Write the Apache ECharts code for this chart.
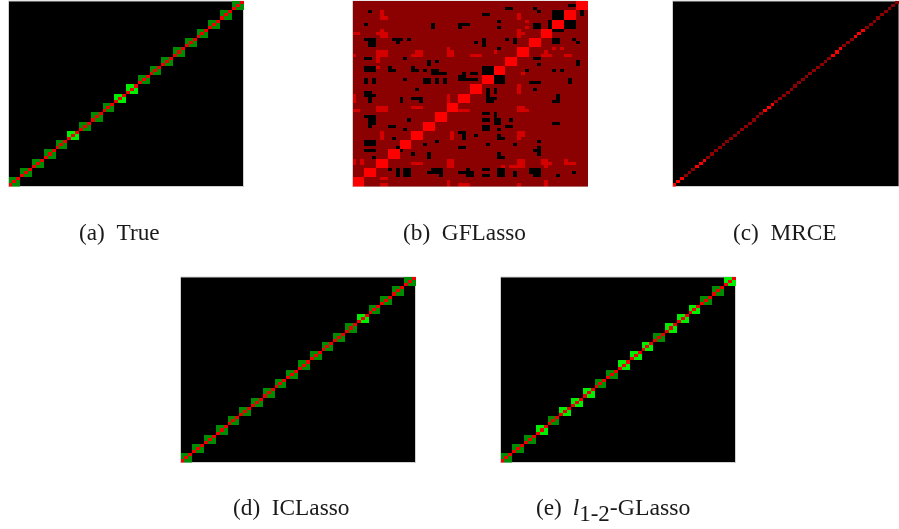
<!DOCTYPE html>
<html>
<head>
<meta charset="utf-8">
<style>html,body{margin:0;padding:0;background:#fff;overflow:hidden}#c{width:899px;height:529px;filter:blur(0.6px)}</style>
<script src="https://cdn.jsdelivr.net/npm/echarts@6/dist/echarts.min.js"></script>
</head>
<body>
<div id="c"></div>
<script>
const matrixSize = 60;
const blockCount = 20;
const blockSize = 3;

// strong (2) blocks, counted from the lower-left corner
const trueStrongBlocks = [5, 9, 10];
const iclassoStrongBlocks = [15];
const l12StrongBlocks = [3, 5, 6, 7, 10, 11, 12, 14, 15, 16, 19];
// strong diagonal blocks of MRCE
const mrceStrongBlocks = [0, 2, 8, 14, 16];

// GFLasso: [firstCol, lastCol, firstRowFromTop, lastRowFromTop]
const gflassoZero = [
 [4,4,3,3],[39,40,2,2],[46,46,2,2],[47,47,3,3],[55,56,1,1],[33,34,4,4],[58,58,3,4],
 [51,53,3,5],[54,56,6,8],[50,50,6,8],[51,53,9,9],[3,3,7,7],[20,20,7,8],[27,29,7,7],[27,27,8,8],
 [37,37,6,6],[37,37,8,8],[46,47,7,8],[3,5,12,12],[4,5,13,14],[10,12,12,12],[11,11,13,13],[14,14,12,12],
 [31,31,13,13],[33,33,12,14],[39,39,12,12],[41,41,12,13],[51,52,12,13],[56,56,12,12],[57,57,13,13],
 [37,37,15,15],[3,4,18,18],[13,13,18,18],[46,47,18,18],[19,19,19,20],[21,21,19,19],[47,47,20,20],[57,57,19,20],
 [3,5,21,22],[9,9,21,22],[10,10,22,22],[15,15,21,22],[16,16,22,22],[18,18,22,22],[20,21,22,23],[22,23,23,23],
 [28,28,23,24],[27,27,24,25],[28,31,25,25],[30,31,23,23],[33,35,21,23],[44,44,22,22],[51,51,22,22],[53,53,22,22],
 [36,38,24,26],[3,3,25,26],[5,5,25,26],[13,13,25,25],[18,19,25,26],[21,21,25,26],[23,23,25,26],[45,47,26,26],[55,55,25,26],
 [16,16,28,28],[46,46,28,28],[34,34,28,32],[35,36,31,31],[35,35,32,32],[36,36,28,29],
 [3,4,29,30],[5,5,30,30],[4,4,31,32],[12,12,31,32],[15,17,31,31],[17,17,32,32],[52,52,30,32],[51,51,32,32],
 [33,34,36,36],[33,34,38,38],[36,36,36,39],[37,37,38,39],[40,40,38,38],[39,40,40,40],[33,34,40,41],[37,37,41,41],[51,52,39,39],
 [3,5,37,37],[4,5,38,39],[4,4,40,40],[14,14,38,38],[9,10,40,40],[13,13,41,41],
 [27,28,42,42],[28,28,43,44],[31,31,43,43],[37,37,43,44],[38,38,44,44],[10,10,44,44],
 [3,5,45,46],[47,47,45,45],[21,21,45,45],[18,18,46,46],[27,28,47,47],[34,34,46,46],[41,41,46,46],[11,11,47,47],[47,47,47,49],[46,46,48,48],
 [3,5,48,48],[12,12,48,48],[15,15,49,49],[19,19,49,50],[37,37,49,50],[38,38,50,50],[5,5,50,50],
 [9,9,54,54],[11,11,54,56],[13,14,54,56],[19,22,55,55],[20,22,54,54],[22,22,56,56],[27,30,55,55],[29,29,54,54],[29,30,56,56],
 [33,34,54,54],[33,34,56,56],[37,38,54,56],[41,41,55,56],[45,47,54,55],[46,47,56,56],[52,52,56,56],[56,56,55,55]
];
const gflassoMid = [
 [7,7,3,5],[8,8,5,5],[42,42,4,5],[44,44,6,6],[44,44,8,8],[0,1,10,10],[6,6,10,10],[7,8,10,11],[7,7,9,9],
 [42,42,9,11],[43,43,10,10],[6,8,16,17],[6,6,18,19],[0,0,17,17],[15,15,17,17],[16,17,16,17],[24,24,15,15],[24,25,16,17],
 [30,32,17,17],[36,36,16,16],[51,51,15,15],[53,53,15,15],[49,49,16,16],[48,50,17,17],[54,55,17,17],[6,6,21,21],[43,43,23,23],
 [42,42,27,29],[0,0,30,32],[24,24,30,33],[0,1,35,35],[6,8,34,35],[15,17,34,34],[27,29,35,35],[42,43,34,35],[44,44,35,35],
 [7,7,42,44],[25,25,42,44],[42,42,42,44],[43,43,42,43],[0,0,51,52],[2,2,51,52],[15,17,52,52],[24,25,51,53],[38,38,53,53],
 [40,41,53,53],[42,43,51,53],[48,49,51,52],[49,49,53,53],[50,50,52,52],[54,54,51,52],[55,56,52,52],
 [7,8,57,57],[7,8,59,59],[24,24,58,59],[27,29,59,59],[42,42,59,59],[49,49,58,59]
];

const captions = ['(a)  True', '(b)  GFLasso', '(c)  MRCE', '(d)  ICLasso'];

// levels: 0 black, 1 dark green, 2 bright green, 3 dark red, 4 medium red, 5 bright red, 6 diagonal red on green
const levelColors = ['#000000', '#008c00', '#00ee00', '#8b0000', '#d40000', '#ff0000', '#ee0000'];

function blockMatrix(strong) {
  const out = [];
  for (let b = 0; b < blockCount; b++) {
    const lvl = strong.includes(b) ? 2 : 1;
    for (let i = 0; i < blockSize; i++) for (let j = 0; j < blockSize; j++) {
      const x = b * blockSize + i, y = b * blockSize + j;
      out.push([x, y, i === j ? 6 : lvl]);
    }
  }
  return out;
}
function mrceMatrix() {
  const out = [];
  for (let i = 0; i < matrixSize; i++) {
    out.push([i, i, mrceStrongBlocks.includes(Math.floor(i / blockSize)) ? 5 : 3]);
  }
  return out;
}
function gflassoMatrix() {
  const m = [];
  for (let r = 0; r < matrixSize; r++) m.push(new Array(matrixSize).fill(3));
  const paint = (list, v) => list.forEach(([c0, c1, r0, r1]) => {
    for (let c = c0; c <= c1; c++) for (let r = r0; r <= r1; r++) m[r][c] = v;
  });
  paint(gflassoMid, 4);
  paint(gflassoZero, 0);
  for (let b = 0; b < blockCount; b++) {
    for (let i = 0; i < blockSize; i++) for (let j = 0; j < blockSize; j++) {
      m[matrixSize - 1 - (b * blockSize + j)][b * blockSize + i] = 5;
    }
  }
  const out = [];
  for (let r = 0; r < matrixSize; r++) for (let c = 0; c < matrixSize; c++) {
    out.push([c, matrixSize - 1 - r, m[r][c]]);
  }
  return out;
}

const panels = [
  {left: 8.5,   top: 1,   data: blockMatrix(trueStrongBlocks)},
  {left: 352.5, top: 1,   data: gflassoMatrix()},
  {left: 672.5, top: 1,   data: mrceMatrix()},
  {left: 180.5, top: 277, data: blockMatrix(iclassoStrongBlocks)},
  {left: 500.5, top: 277, data: blockMatrix(l12StrongBlocks)}
];
const cats = Array.from({length: matrixSize}, (_, i) => String(i));
const W = 235, H = 185.5;

// one cell: edges come from the axis scale, snapped so that neighbours neither overlap nor gap
const snap = v => Math.round(v + 1e-6);
function renderCell(params, api) {
  const center = api.coord([api.value(0), api.value(1)]);
  const size = api.size([1, 1]);
  const x0 = snap(center[0] - size[0] / 2), x1 = snap(center[0] + size[0] / 2);
  const y0 = snap(center[1] - size[1] / 2), y1 = snap(center[1] + size[1] / 2);
  return {
    type: 'rect',
    shape: {x: x0, y: y0, width: x1 - x0, height: y1 - y0},
    style: {fill: levelColors[api.value(2)]}
  };
}

const serif = 'Liberation Serif';
const ink = '#1a1a1a';
const capStyle = {fontFamily: serif, fontSize: 23.3, fill: ink};
const option = {
  animation: false,
  backgroundColor: '#fff',
  grid: panels.map(p => ({left: p.left, top: p.top, width: W, height: H, show: true,
    backgroundColor: '#000', borderColor: '#d0d0d0', borderWidth: 1, containLabel: false})),
  xAxis: panels.map((p, i) => ({type: 'category', gridIndex: i, data: cats, show: false})),
  yAxis: panels.map((p, i) => ({type: 'category', gridIndex: i, data: cats, show: false})),
  series: panels.map((p, i) => ({type: 'custom', xAxisIndex: i, yAxisIndex: i, data: p.data,
    encode: {x: 0, y: 1}, renderItem: renderCell, progressive: 0, silent: true, clip: true})),
  graphic: [
    {type: 'text', left: 79,  top: 222, style: Object.assign({text: captions[0]}, capStyle)},
    {type: 'text', left: 403, top: 222, style: Object.assign({text: captions[1]}, capStyle)},
    {type: 'text', left: 733, top: 222, style: Object.assign({text: captions[2]}, capStyle)},
    {type: 'text', left: 233, top: 497, style: Object.assign({text: captions[3]}, capStyle)},
    {type: 'text', left: 536, top: 497, style: {
      text: '{m|(e) }{g|  }{i|l}{s|1-2}{t|-GLasso}',
      fontFamily: serif, fontSize: 23.3, fill: ink,
      rich: {
        m: {fontFamily: serif, fontSize: 23.3, fill: ink, verticalAlign: 'top'},
        t: {fontFamily: serif, fontSize: 23.8, fill: ink, verticalAlign: 'top'},
        g: {fontFamily: serif, fontSize: 10, fill: ink, verticalAlign: 'top'},
        i: {fontFamily: serif, fontSize: 23.3, fontStyle: 'italic', fill: ink, verticalAlign: 'top'},
        s: {fontFamily: serif, fontSize: 23, fill: ink, verticalAlign: 'top', padding: [6, 0, 0, 0]}
      }
    }}
  ]
};
const chart = echarts.init(document.getElementById('c'), null, {renderer: 'canvas'});
chart.setOption(option);
</script>
</body>
</html>
